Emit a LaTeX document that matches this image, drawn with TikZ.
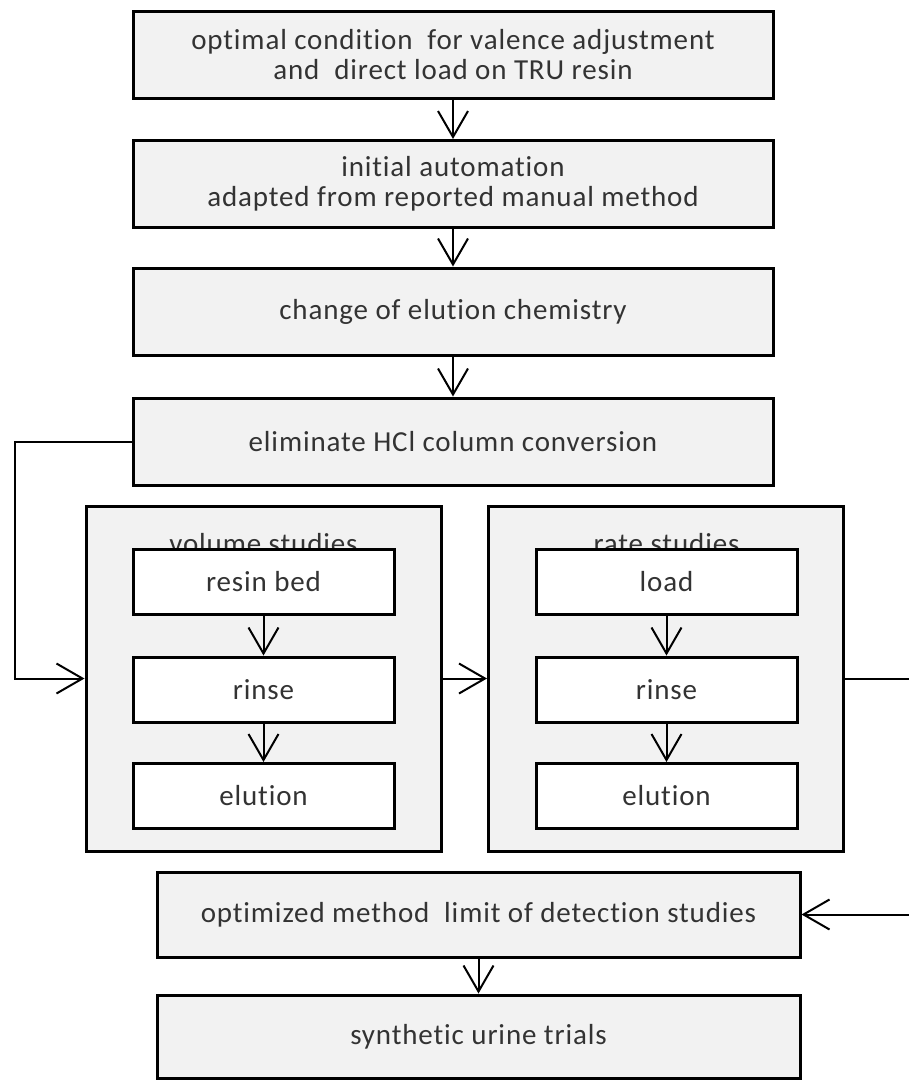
\documentclass[tikz,border=0pt]{standalone}
\usepackage{fontspec}
\setmainfont{Carlito}[Ligatures=NoCommon, LetterSpace=3]
\usetikzlibrary{arrows.meta, positioning}

\definecolor{boxgray}{HTML}{F2F2F2}
\definecolor{txtgray}{HTML}{333333}

\tikzset{
    stage/.style={draw, line width=3pt, fill=boxgray, text=txtgray,
        minimum width=640pt, minimum height=87pt, align=center, inner sep=0pt},
    group/.style={draw, line width=3pt, fill=boxgray,
        minimum width=355pt, minimum height=345pt, inner sep=0pt},
    substep/.style={draw, line width=3pt, fill=white, text=txtgray,
        minimum width=261pt, minimum height=65pt, inner sep=0pt},
    flow/.style={line width=2pt, -{Straight Barb[length=26pt, width=30pt, line width=2pt]}},
}

\begin{document}
\begin{tikzpicture}[x=1pt, y=-1pt, font=\fontsize{29}{30}\selectfont]

            \useasboundingbox (0,0) rectangle (909,1080);
            \clip (0,0) rectangle (909,1080);

            % 主流程
            \node[stage] (opt)  at (453,55)    {optimal condition\ \ for valence adjustment\\and\ \ direct load on TRU resin};
            \node[stage] (init) at (453,184)   {initial automation\\adapted from reported manual method};
            \node[stage] (chem) at (453,311.5) {change of elution chemistry};
            \node[stage] (elim) at (453,441.5) {eliminate HCl column conversion};

            % 两组研究
            \node[group] (vol)  at (263.5,678.5) {};
            \node[group] (rate) at (666,678.5)   {};
            \node[anchor=base, text=txtgray] (voltitle)  at (263.5,553) {volume studies};
            \node[anchor=base, text=txtgray] (ratetitle) at (666.5,553) {rate studies};

            \node[substep] (bed)    at (263.5,581.5) {resin bed};
            \node[substep] (rinsea) at (263.5,689.5) {rinse};
            \node[substep] (elua)   at (263.5,796)   {elution};
            \node[substep] (load)   at (666.5,581.5) {load};
            \node[substep] (rinseb) at (666.5,689.5) {rinse};
            \node[substep] (elub)   at (666.5,796)   {elution};

            % 最后两步
            \node[stage, minimum width=643pt, minimum height=85pt] (lod)   at (478.5,914.5)  {optimized method\ \ limit of detection studies};
            \node[stage, minimum width=643pt, minimum height=83pt] (urine) at (478.5,1036.5) {synthetic urine trials};

            % 箭头
            \draw[flow] (opt) -- (init);
            \draw[flow] (init) -- (chem);
            \draw[flow] (chem) -- (elim);
            \draw[flow] (bed) -- (rinsea);
            \draw[flow] (rinsea) -- (elua);
            \draw[flow] (load) -- (rinseb);
            \draw[flow] (rinseb) -- (elub);
            \draw[flow] (vol) -- (rate);
            \draw[flow] (lod) -- (urine);

            % 回路
            \coordinate (lft) at (15,0);
            \coordinate (rgt) at (930,0);
            \draw[flow] (elim.west) -- (lft |- elim.west) |- (vol.west);
            \draw[flow] (rate.east) -- (rgt |- rate.east) |- (lod.east);

\end{tikzpicture}
\end{document}
